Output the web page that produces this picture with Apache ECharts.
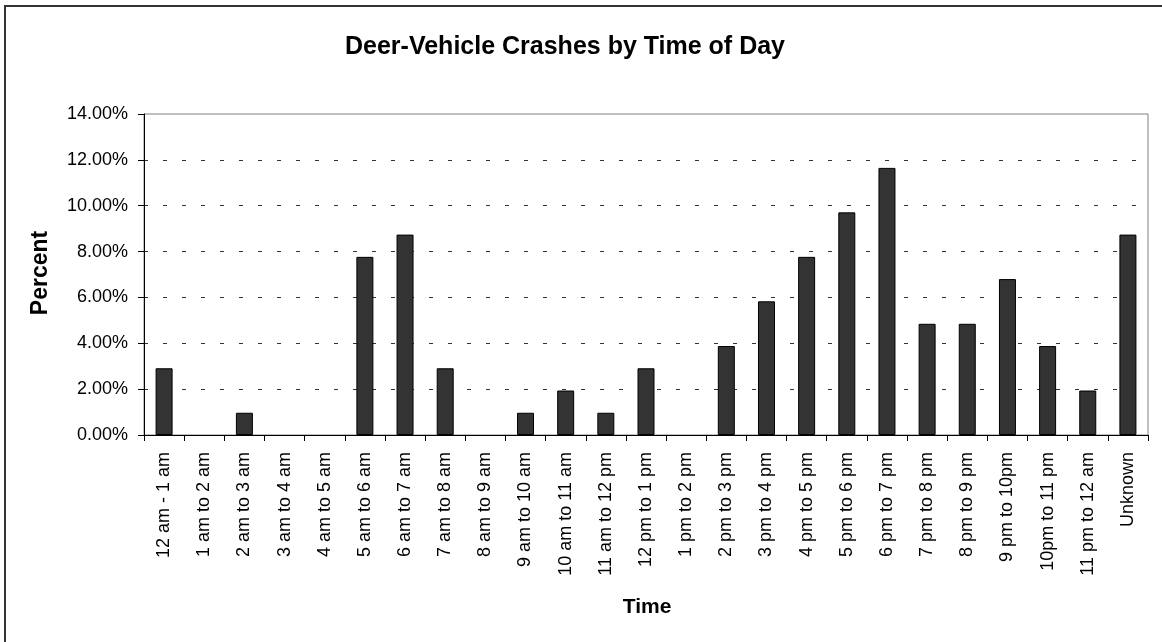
<!DOCTYPE html>
<html>
<head>
<meta charset="utf-8">
<script src="https://cdn.jsdelivr.net/npm/echarts@6/dist/echarts.min.js"></script>
<style>
html,body{margin:0;padding:0;background:#fff;}
#c{width:1162px;height:642px;}
</style>
</head>
<body>
<div id="c"></div>
<script>
var categories = ["12 am - 1 am","1 am to 2 am","2 am to 3 am","3 am to 4 am","4 am to 5 am","5 am to 6 am","6 am to 7 am","7 am to 8 am","8 am to 9 am","9 am to 10 am","10 am to 11 am","11 am to 12 pm","12 pm to 1 pm","1 pm to 2 pm","2 pm to 3 pm","3 pm to 4 pm","4 pm to 5 pm","5 pm to 6 pm","6 pm to 7 pm","7 pm to 8 pm","8 pm to 9 pm","9 pm to 10pm","10pm to 11 pm","11 pm to 12 am","Unknown"];
var percentValues = [2.91,0,0.97,0,0,7.77,8.74,2.91,0,0.97,1.94,0.97,2.91,0,3.88,5.83,7.77,9.71,11.65,4.85,4.85,6.80,3.88,1.94,8.74];
var yMin = 0, yMax = 14, yStep = 2;
var titleText = "Deer-Vehicle Crashes by Time of Day";
var yTitle = "Percent";
var xTitle = "Time";

var FONT = "'Liberation Sans', Arial, sans-serif";
var barData = percentValues.map(function(v){
  return v === 0 ? {value: v, itemStyle: {borderWidth: 0}} : v;
});
var chart = echarts.init(document.getElementById('c'), null, {renderer:'canvas'});
chart.setOption({
  animation: false,
  backgroundColor: '#fff',
  title: {
    text: titleText,
    left: 560, top: 30, textAlign: 'center',
    textStyle: {fontFamily: FONT, fontSize: 25, fontWeight: 'bold', color: '#000'}
  },
  grid: {left: 144, right: 14, top: 114, bottom: 207, show: true, borderColor: '#808080', borderWidth: 1, backgroundColor: 'transparent'},
  xAxis: {
    type: 'category',
    data: categories,
    boundaryGap: true,
    axisLine: {lineStyle: {color: '#000', width: 1}},
    axisTick: {show: true, length: 6, lineStyle: {color: '#000'}},
    axisLabel: {rotate: 90, interval: 0, margin: 17, fontFamily: FONT, fontSize: 18, color: '#000'}
  },
  yAxis: {
    type: 'value',
    min: yMin, max: yMax, interval: yStep,
    axisLine: {show: true, lineStyle: {color: '#000', width: 1}},
    axisTick: {show: true, length: 6, lineStyle: {color: '#000'}},
    axisLabel: {margin: 16, fontFamily: FONT, fontSize: 18, color: '#000', formatter: function(v){return v.toFixed(2) + '%';}},
    splitLine: {show: true, showMaxLine: false, showMinLine: false, lineStyle: {color: '#333', width: 1, type: [4, 15]}}
  },
  series: [{
    type: 'bar',
    data: barData,
    barWidth: 17,
    itemStyle: {color: '#333333', borderColor: '#000', borderWidth: 1}
  }],
  graphic: [
    {type: 'rect', shape: {x: 5, y: 6, width: 1170, height: 650}, style: {fill: 'none', stroke: '#333', lineWidth: 2}, silent: true, z: 100},
    {type: 'text', x: 41, y: 273, rotation: Math.PI/2, style: {text: yTitle, fontFamily: FONT, fontSize: 23, fontWeight: 'bold', fill: '#000', align: 'center', verticalAlign: 'middle'}},
    {type: 'text', x: 647, y: 607, style: {text: xTitle, fontFamily: FONT, fontSize: 21, fontWeight: 'bold', fill: '#000', align: 'center', verticalAlign: 'middle'}}
  ]
});
</script>
</body>
</html>
